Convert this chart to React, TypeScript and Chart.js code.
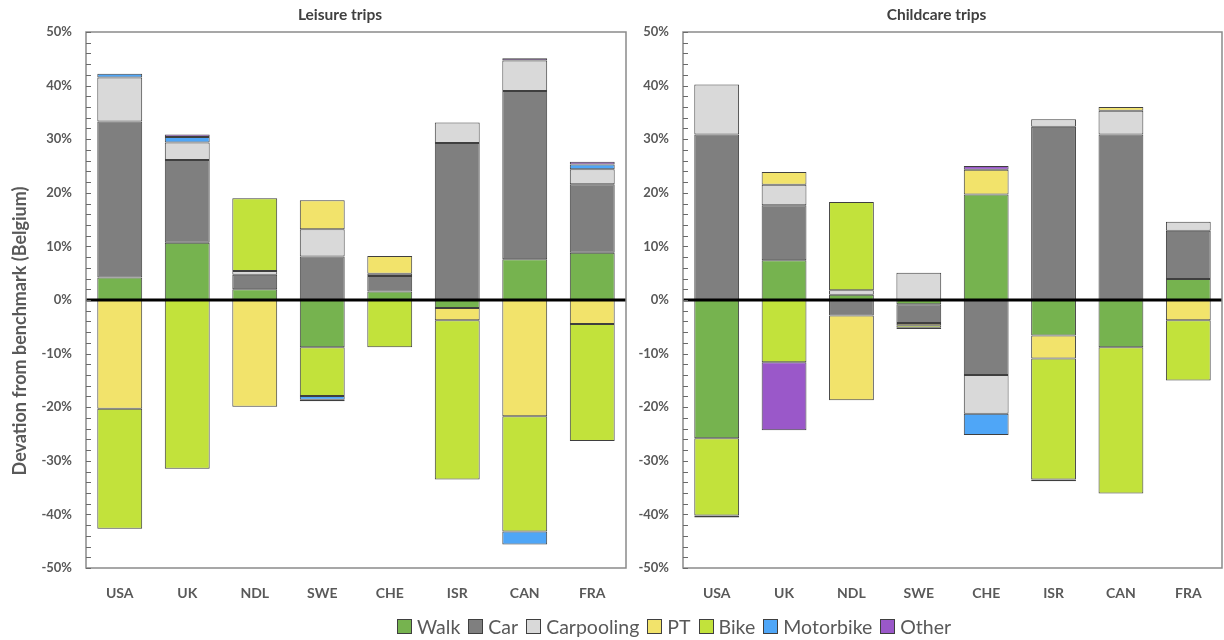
import React, { useEffect, useRef } from 'react';
import { Chart, registerables } from 'chart.js';

Chart.register(...registerables);

const countries = ['USA', 'UK', 'NDL', 'SWE', 'CHE', 'ISR', 'CAN', 'FRA'];
const modes = ['Walk', 'Car', 'Carpooling', 'PT', 'Bike', 'Motorbike', 'Other'];
const modeColors = ['#76B34F', '#7F7F7F', '#D9D9D9', '#F2E36B', '#C2E23B', '#4FA6F7', '#9A58C9'];
const yTickValues = [-50, -40, -30, -20, -10, 0, 10, 20, 30, 40, 50];

// Leisure trips (deviation in %)
const leisureWalk = [4.2, 10.7, 2.0, -8.8, 1.6, -1.5, 7.6, 8.8];
const leisureCar = [29.1, 15.4, 2.7, 8.1, 2.9, 29.3, 31.4, 12.8];
const leisureCarpooling = [8.2, 3.3, 0.7, 5.1, 0.4, 3.8, 5.7, 2.8];
const leisurePT = [-20.3, 0, -19.9, 5.4, 3.3, -2.3, -21.7, -4.5];
const leisureBike = [-22.4, -31.5, 13.6, -9.1, -8.8, -29.7, -21.5, -21.8];
const leisureMotorbike = [0.7, 1.0, 0, -0.7, 0, 0, -2.4, 0.9];
const leisureOther = [0, 0.5, 0, -0.3, 0, 0, 0.4, 0.5];

// Childcare trips (deviation in %)
const childWalk = [-25.8, 7.4, 1.0, -0.8, 19.7, -6.6, -8.8, 3.9];
const childCar = [30.9, 10.3, -2.9, -3.5, -14.0, 32.3, 30.9, 9.0];
const childCarpooling = [9.3, 3.8, 0.8, 5.1, -7.2, 1.4, 4.4, 1.7];
const childPT = [0, 2.4, -15.8, -0.4, 4.6, -4.3, 0.7, -3.8];
const childBike = [-14.4, -11.6, 16.5, -0.5, 0, -22.6, -27.3, -11.2];
const childMotorbike = [0, 0, 0, 0, -4.0, 0, 0, 0];
const childOther = [-0.4, -12.7, 0, -0.2, 0.7, -0.3, 0, 0];

const leisureSeries = [leisureWalk, leisureCar, leisureCarpooling, leisurePT, leisureBike, leisureMotorbike, leisureOther];
const childSeries = [childWalk, childCar, childCarpooling, childPT, childBike, childMotorbike, childOther];

const FONT = 'Lato, "Open Sans", sans-serif';
const TEXT = '#595959';

const decorPlugin = {
  id: 'decor',
  afterDatasetsDraw(chart: any, _args: any, opts: any) {
    const { ctx, chartArea: a, scales } = chart;
    const y = scales.y;
    ctx.save();
    // zero line
    const y0 = y.getPixelForValue(0);
    ctx.strokeStyle = '#000000';
    ctx.lineWidth = 3;
    ctx.beginPath();
    ctx.moveTo(a.left, y0);
    ctx.lineTo(a.right, y0);
    ctx.stroke();
    // frame
    ctx.strokeStyle = '#8A8A8A';
    ctx.lineWidth = 1.5;
    ctx.strokeRect(a.left, a.top, a.right - a.left, a.bottom - a.top);
    // inward minor ticks
    ctx.strokeStyle = '#6A6A6A';
    ctx.lineWidth = 1;
    for (let v = -50; v <= 50; v += 2) {
      const py = Math.round(y.getPixelForValue(v)) + 0.5;
      ctx.beginPath();
      ctx.moveTo(a.left, py);
      ctx.lineTo(a.left + 5, py);
      ctx.stroke();
    }
    // panel title
    ctx.fillStyle = '#404040';
    ctx.font = `bold 15.5px ${FONT}`;
    ctx.textAlign = 'center';
    ctx.textBaseline = 'middle';
    ctx.fillText(opts.title, (a.left + a.right) / 2 - 16, a.top - 17);
    if (opts.yTitle) {
      ctx.translate(20, 331);
      ctx.rotate(-Math.PI / 2);
      ctx.fillStyle = TEXT;
      ctx.font = `bold 18px ${FONT}`;
      ctx.fillText(opts.yTitle, 0, 0);
    }
    ctx.restore();
  },
};

function makeConfig(series: number[][], title: string, yTitle: string | null, axisWidth: number, padRight: number) {
  return {
    type: 'bar' as const,
    data: {
      labels: countries,
      datasets: modes.map((m, i) => ({
        label: m,
        data: series[i].map((v) => (v === 0 ? null : v)),
        backgroundColor: modeColors[i],
        borderColor: '#3F3F3F',
        borderWidth: 1,
        borderSkipped: false,
        barPercentage: 1,
        categoryPercentage: 0.665,
      })),
    },
    options: {
      responsive: false,
      animation: false as const,
      devicePixelRatio: 1,
      layout: { padding: { top: 32, bottom: 32, left: 0, right: padRight } },
      plugins: {
        legend: { display: false },
        tooltip: { enabled: false },
        decor: { title, yTitle },
      },
      scales: {
        x: {
          stacked: true,
          grid: { display: false, drawTicks: false },
          border: { display: false },
          ticks: { color: TEXT, font: { family: FONT, size: 14, weight: 'bold' as const }, padding: 17, maxRotation: 0 },
          afterFit: (s: any) => { s.height = 40; },
        },
        y: {
          stacked: true,
          min: -50,
          max: 50,
          grid: { display: false, drawTicks: false },
          border: { display: false },
          afterBuildTicks: (s: any) => { s.ticks = yTickValues.map((v) => ({ value: v })); },
          ticks: {
            color: TEXT,
            font: { family: FONT, size: 13, weight: 'bold' as const },
            padding: 14,
            callback: (v: any) => `${v}%`,
          },
          afterFit: (s: any) => { s.width = axisWidth; },
        },
      },
    },
    plugins: [decorPlugin],
  };
}

function Panel(props: { series: number[][]; title: string; yTitle: string | null; axisWidth: number; padRight: number; left: number; width: number }) {
  const ref = useRef<HTMLCanvasElement>(null);
  useEffect(() => {
    if (!ref.current) return;
    const chart = new Chart(ref.current, makeConfig(props.series, props.title, props.yTitle, props.axisWidth, props.padRight) as any);
    return () => chart.destroy();
  }, []);
  return (
    <canvas
      ref={ref}
      width={props.width}
      height={640}
      style={{ position: 'absolute', left: props.left, top: 0, width: props.width, height: 640 }}
    />
  );
}

export default function App() {
  return (
    <div style={{ position: 'fixed', left: 0, top: 0, width: 1224, height: 640, background: '#ffffff', overflow: 'hidden' }}>
      <Panel series={leisureSeries} title="Leisure trips" yTitle="Devation from benchmark (Belgium)" axisWidth={86} padRight={14} left={0} width={640} />
      <Panel series={childSeries} title="Childcare trips" yTitle={null} axisWidth={53} padRight={2} left={630} width={594} />
      <div
        style={{
          position: 'absolute',
          left: 397,
          top: 613,
          height: 26,
          display: 'flex',
          alignItems: 'center',
          fontFamily: FONT,
          fontSize: 19.5,
          color: TEXT,
          whiteSpace: 'nowrap',
        }}
      >
        {modes.map((m, i) => (
          <div key={m} style={{ display: 'flex', alignItems: 'center', marginRight: 8 }}>
            <span
              style={{
                display: 'inline-block',
                width: 13,
                height: 13,
                background: modeColors[i],
                border: '1px solid #3F3F3F',
                marginRight: 5,
              }}
            />
            <span>{m}</span>
          </div>
        ))}
      </div>
    </div>
  );
}
